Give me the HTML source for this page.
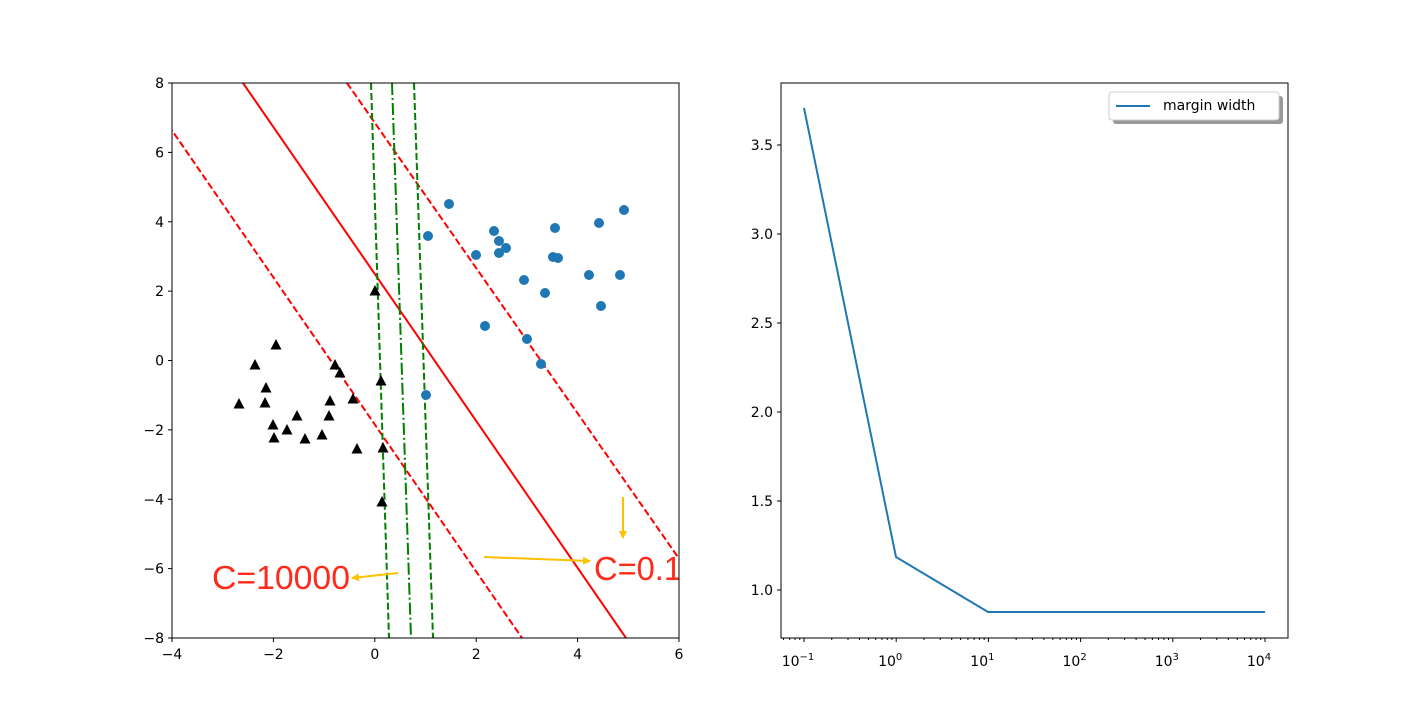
<!DOCTYPE html>
<html><head><style>body{margin:0;background:#fff}svg{display:block}text{font-family:"DejaVu Sans","Liberation Sans",sans-serif}</style></head>
<body>
<svg id="s" width="1420" height="712" xmlns="http://www.w3.org/2000/svg">
<defs>
<clipPath id="c1"><rect x="172" y="83" width="507" height="555"/></clipPath>
<marker id="ah" markerWidth="8" markerHeight="8" refX="7" refY="4" orient="auto" markerUnits="userSpaceOnUse"><path d="M0,0 L8,4 L0,8 Z" fill="#ffc000"/></marker>
</defs>
<g clip-path="url(#c1)">
<line x1="243" y1="83" x2="626" y2="638" stroke="#ff0000" stroke-width="2"/>
<line x1="347" y1="83" x2="710" y2="603" stroke="#ff0000" stroke-width="2" stroke-dasharray="7,3"/>
<line x1="140" y1="84" x2="522" y2="638" stroke="#ff0000" stroke-width="2" stroke-dasharray="7,3"/>
<line x1="371" y1="83" x2="389" y2="638" stroke="#008000" stroke-width="2" stroke-dasharray="7,3"/>
<line x1="392" y1="83" x2="411" y2="638" stroke="#008000" stroke-width="2" stroke-dasharray="12,3,2,3"/>
<line x1="414" y1="83" x2="433" y2="638" stroke="#008000" stroke-width="2" stroke-dasharray="7,3"/>
<g id="pts"></g>
<line x1="398" y1="573" x2="352" y2="578" stroke="#ffc000" stroke-width="2" marker-end="url(#ah)"/>
<line x1="484" y1="557" x2="590" y2="561" stroke="#ffc000" stroke-width="2" marker-end="url(#ah)"/>
<line x1="623" y1="497" x2="623" y2="538" stroke="#ffc000" stroke-width="2" marker-end="url(#ah)"/>
<text x="212" y="589" font-size="33" fill="#ff2a1a" textLength="138" lengthAdjust="spacingAndGlyphs" style="font-family:'Liberation Sans','Noto Sans CJK SC',sans-serif">C=10000</text>
<text x="594" y="580" font-size="33" fill="#ff2a1a" textLength="88" lengthAdjust="spacingAndGlyphs" style="font-family:'Liberation Sans','Noto Sans CJK SC',sans-serif">C=0.1</text>
</g>
<rect x="172" y="83" width="507" height="555" fill="none" stroke="#000" stroke-width="1"/>
<rect x="781" y="83" width="507" height="555" fill="none" stroke="#000" stroke-width="1"/>
<polyline points="804,108 896,557 988,612 1265,612" fill="none" stroke="#1f77b4" stroke-width="2"/>
<rect x="1113" y="96" width="170" height="28" rx="3" fill="#999"/>
<rect x="1109" y="92" width="170" height="28" rx="3" fill="#fff" stroke="#ccc"/>
<line x1="1116" y1="106" x2="1150" y2="106" stroke="#1f77b4" stroke-width="2"/>
<text x="1163" y="110" font-size="14">margin width</text>
<g id="ax" font-size="14" fill="#000"></g>
</svg>
<script>
var ns="http://www.w3.org/2000/svg",s=document.getElementById('ax'),p=document.getElementById('pts');
function el(t,a,par,txt){var e=document.createElementNS(ns,t);for(var k in a)e.setAttribute(k,a[k]);if(txt!=null)e.textContent=txt;(par||s).appendChild(e);return e;}
var b=[[449,204],[428,236],[476,255],[494,231],[499,241],[499,253],[506,248],[524,280],[485,326],[527,339],[541,364],[545,293],[553,257],[558,258],[555,228],[589,275],[599,223],[601,306],[620,275],[624,210],[426,395]];
b.forEach(function(q){el('circle',{cx:q[0],cy:q[1],r:5,fill:'#1f77b4'},p)});
var t=[[375,291],[276,345],[255,365],[335,365],[340,373],[266,388],[239,404],[265,403],[330,401],[353,399],[381,381],[273,425],[297,416],[287,430],[329,416],[274,438],[305,439],[322,435],[357,449],[383,448],[382,502]];
t.forEach(function(q){var x=q[0],y=q[1];el('polygon',{points:(x)+','+(y-6)+' '+(x-5.5)+','+(y+4.5)+' '+(x+5.5)+','+(y+4.5),fill:'#000'},p)});
var xs=[-4,-2,0,2,4,6];xs.forEach(function(v,i){var x=172+i*101.4;el('line',{x1:x,y1:638,x2:x,y2:642,stroke:'#000'});el('text',{x:x,y:659,'text-anchor':'middle'},null,(v<0?'\u2212'+(-v):v))});
for(var i=0;i<9;i++){var v=8-2*i,y=83+i*69.375;el('line',{x1:168,y1:y,x2:172,y2:y,stroke:'#000'});el('text',{x:164,y:y+5,'text-anchor':'end'},null,(v<0?'\u2212'+(-v):v))}
var ry=[[1.0,590],[1.5,501],[2.0,412],[2.5,323],[3.0,234],[3.5,145]];
ry.forEach(function(q){el('line',{x1:777,y1:q[1],x2:781,y2:q[1],stroke:'#000'});el('text',{x:773,y:q[1]+5,'text-anchor':'end'},null,q[0].toFixed(1))});
for(var d=-2;d<=4;d++){for(var k=1;k<10;k++){var x=804+92.2*(d+1+Math.log10(k));if(x<781||x>1288)continue;
el('line',{x1:x,y1:638,x2:x,y2:k==1?642:640,stroke:'#000'});
if(k==1&&d>=-1){var tx=el('text',{x:x-6,y:666,'text-anchor':'middle'},null,'10');el('tspan',{dy:-6,'font-size':10},tx,d<0?'\u2212'+(-d):d);}}}
</script>
</body></html>
